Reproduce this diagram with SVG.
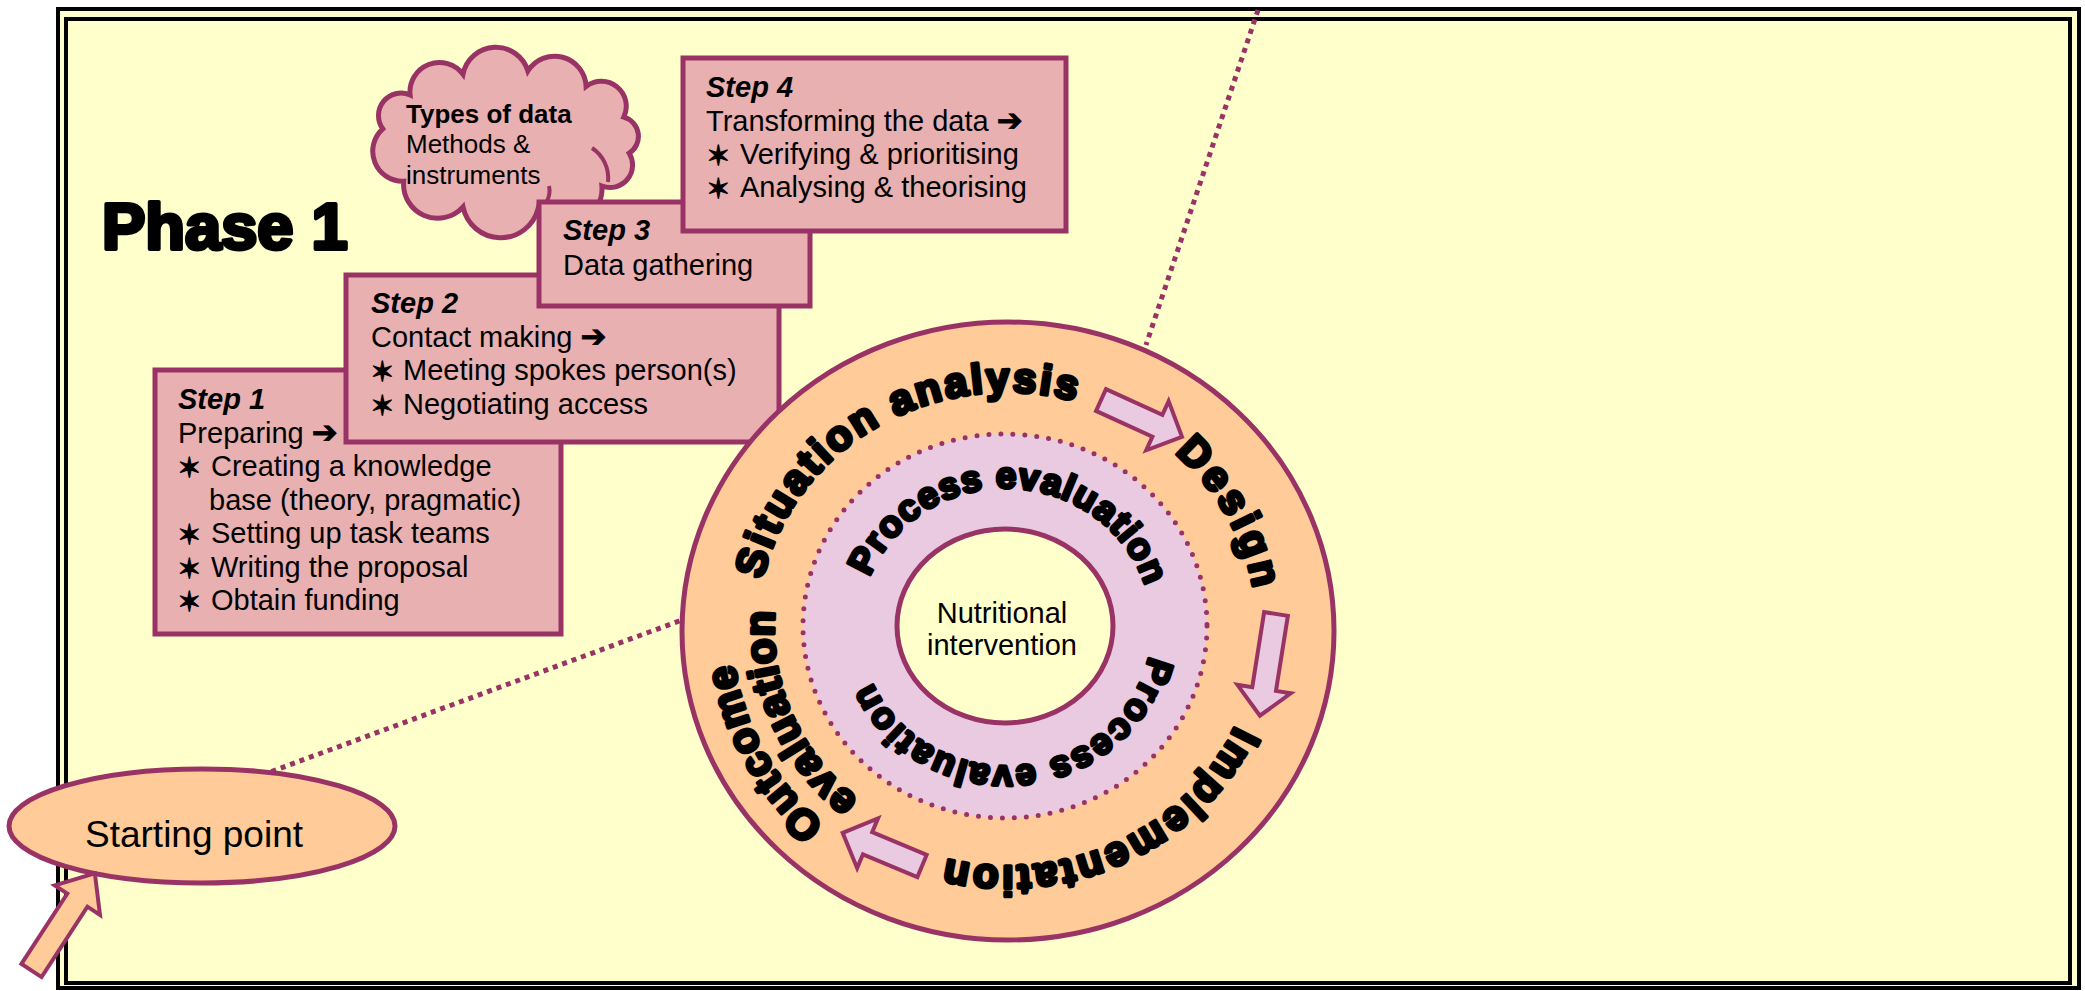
<svg xmlns="http://www.w3.org/2000/svg" width="2085" height="991" viewBox="0 0 2085 991">
<style>
.box{fill:#E8B0B0;stroke:#993366;stroke-width:5}
.t{font-family:"Liberation Sans","DejaVu Sans",sans-serif;font-size:29px;fill:#000}
.h{font-weight:bold;font-style:italic}
.sym{font-family:"DejaVu Sans",sans-serif;font-size:27px;stroke:#000;stroke-width:1.4;stroke-linejoin:round}
.ar{font-family:"DejaVu Sans",sans-serif;font-size:31px;stroke:#000;stroke-width:0.8}
.ring{font-family:"Liberation Sans","DejaVu Sans",sans-serif;font-weight:bold;font-size:42px;fill:#000;stroke:#000;stroke-width:3.6;stroke-linejoin:round}
.inner{font-size:37px;stroke-width:3.2}
.dotline{fill:none;stroke:#993366;stroke-width:5;stroke-dasharray:5 5}
.arr{fill:#E9CAE1;stroke:#993366;stroke-width:4;stroke-linejoin:miter}
</style>
<defs>
<path id="p-sit" d="M 762.5 579.7 A 250 237 0 0 1 1132 423.8"/>
<path id="p-des" d="M 1174.3 452.9 A 250 237 0 0 1 1253.2 670.1"/>
<path id="p-imp" d="M 1235.4 725.4 A 250 237 0 0 1 897.4 842.0"/>
<path id="p-out" d="M 824.8 824.5 A 275 261 0 0 1 733.0 606.2"/>
<path id="p-eva" d="M 858.8 799.5 A 233 221 0 0 1 781.9 571.8"/>
<path id="p-pe1" d="M 869.7 577.2 A 146 139 0 0 1 1151.4 614.9"/>
<path id="p-pe2" d="M 1148.8 655.9 A 146 139 0 0 1 861.4 646.3"/>
</defs>

<rect x="0" y="0" width="2085" height="991" fill="#FFFFFF"/>
<g id="frame">
<rect x="58" y="9" width="2021" height="979" fill="#FFFFCC" stroke="#000" stroke-width="4"/>
<rect x="66" y="19" width="2004" height="964" fill="none" stroke="#000" stroke-width="4"/>
</g>

<g id="connectors">
<line class="dotline" x1="1258" y1="10" x2="1146" y2="345"/>
<line class="dotline" x1="262" y1="775" x2="690" y2="617"/>
</g>

<g id="phase-title">
<text x="102" y="249" style="font-family:'Liberation Sans',sans-serif;font-weight:bold;font-size:65px" fill="#000" stroke="#000" stroke-width="4" stroke-linejoin="round">Phase 1</text>
</g>

<g id="cloud-types-of-data">
<path d="M 382.8 128.8 A 22.5 22.5 0 0 1 410.1 95.0 A 29.5 29.5 0 0 1 463.0 74.2 A 33.5 33.5 0 0 1 527.9 71.0 A 31.5 31.5 0 0 1 586.1 86.4 A 25 25 0 0 1 623.8 117.1 A 20 20 0 0 1 629.2 153.2 A 22.5 22.5 0 0 1 601.9 186.0 A 35 35 0 0 1 538.1 208.6 A 38.5 38.5 0 0 1 463.0 206.8 A 34 34 0 0 1 403.7 181.2 A 30 30 0 0 1 382.8 128.8 Z" fill="#E8B0B0" stroke="#993366" stroke-width="5"/>
<path d="M 592 148 A 36 36 0 0 1 608 182 M 549 186 A 22 22 0 0 1 547 201" fill="none" stroke="#993366" stroke-width="4"/>
<text class="t" style="font-size:26px;font-weight:bold" x="406" y="123">Types of data</text>
<text class="t" style="font-size:26px" x="406" y="153">Methods &amp;</text>
<text class="t" style="font-size:26px" x="406" y="184">instruments</text>
</g>

<g id="step1">
<rect class="box" x="155" y="370" width="406" height="264"/>
<text class="t h" x="178" y="409">Step 1</text>
<text class="t" x="178" y="443">Preparing <tspan class="ar">➔</tspan></text>
<text class="t"><tspan class="sym" x="178" y="477">✶</tspan><tspan x="211" y="476">Creating a knowledge</tspan></text>
<text class="t" x="209" y="510">base (theory, pragmatic)</text>
<text class="t"><tspan class="sym" x="178" y="544">✶</tspan><tspan x="211" y="543">Setting up task teams</tspan></text>
<text class="t"><tspan class="sym" x="178" y="578">✶</tspan><tspan x="211" y="577">Writing the proposal</tspan></text>
<text class="t"><tspan class="sym" x="178" y="611">✶</tspan><tspan x="211" y="610">Obtain funding</tspan></text>
</g>

<g id="step2">
<rect class="box" x="346" y="275" width="433" height="167"/>
<text class="t h" x="371" y="313">Step 2</text>
<text class="t" x="371" y="347">Contact making <tspan class="ar">➔</tspan></text>
<text class="t"><tspan class="sym" x="371" y="381">✶</tspan><tspan x="403" y="380">Meeting spokes person(s)</tspan></text>
<text class="t"><tspan class="sym" x="371" y="415">✶</tspan><tspan x="403" y="414">Negotiating access</tspan></text>
</g>

<g id="step3">
<rect class="box" x="539" y="202" width="271" height="104"/>
<text class="t h" x="563" y="240">Step 3</text>
<text class="t" x="563" y="275">Data gathering</text>
</g>

<g id="step4">
<rect class="box" x="683" y="58" width="383" height="173"/>
<text class="t h" x="706" y="97">Step 4</text>
<text class="t" x="706" y="131">Transforming the data <tspan class="ar">➔</tspan></text>
<text class="t"><tspan class="sym" x="707" y="165">✶</tspan><tspan x="740" y="164">Verifying &amp; prioritising</tspan></text>
<text class="t"><tspan class="sym" x="707" y="198">✶</tspan><tspan x="740" y="197">Analysing &amp; theorising</tspan></text>
</g>

<g id="cycle">
<ellipse cx="1008" cy="631" rx="326" ry="309" fill="#FFCC99" stroke="#993366" stroke-width="5"/>
<ellipse cx="1005" cy="626" rx="202" ry="192" fill="#E9CAE1" stroke="#993366" stroke-width="5" stroke-dasharray="0 12" stroke-linecap="round"/>
<ellipse cx="1005" cy="626" rx="108" ry="97" fill="#FFFFCC" stroke="#993366" stroke-width="5"/>
<text class="t" x="1002" y="623" text-anchor="middle">Nutritional</text>
<text class="t" x="1002" y="655" text-anchor="middle">intervention</text>

<text class="ring" letter-spacing="2.6"><textPath href="#p-sit">Situation analysis</textPath></text>
<text class="ring" letter-spacing="4"><textPath href="#p-des">Design</textPath></text>
<text class="ring" letter-spacing="2.6"><textPath href="#p-imp">Implementation</textPath></text>
<text class="ring" letter-spacing="1"><textPath href="#p-out">Outcome</textPath></text>
<text class="ring" letter-spacing="0.8"><textPath href="#p-eva">evaluation</textPath></text>
<text class="ring inner" letter-spacing="1"><textPath href="#p-pe1">Process evaluation</textPath></text>
<text class="ring inner" letter-spacing="1.4"><textPath href="#p-pe2">Process evaluation</textPath></text>

<path class="arr" d="M0,-12 L62,-12 L62,-27 L89,0 L62,27 L62,12 L0,12 Z" transform="translate(1101,400) rotate(24.5)"/>
<path class="arr" d="M0,-12 L76,-12 L76,-27 L103,0 L76,27 L76,12 L0,12 Z" transform="translate(1276,614) rotate(99)"/>
<path class="arr" d="M0,-12 L59,-12 L59,-27 L86,0 L59,27 L59,12 L0,12 Z" transform="translate(922,866) rotate(202.7)"/>
</g>

<g id="starting-point">
<ellipse cx="202" cy="826" rx="193" ry="57" fill="#FFCC99" stroke="#993366" stroke-width="5"/>
<text class="t" style="font-size:37px" x="85" y="847">Starting point</text>
</g>

<g id="start-arrow">
<path d="M0,-12 L84,-12 L84,-27 L116,0 L84,27 L84,12 L0,12 Z" transform="translate(31.5,970.5) rotate(-56.9)" fill="#FFCC99" stroke="#993366" stroke-width="4"/>
</g>
</svg>
